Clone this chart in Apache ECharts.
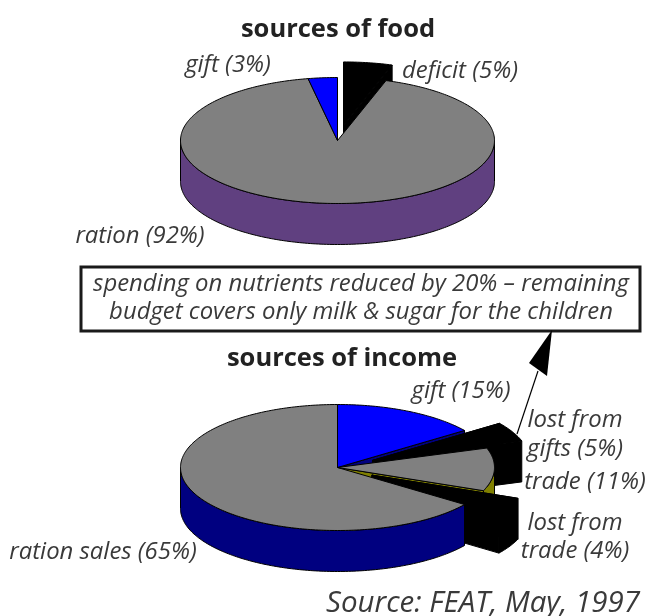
<!DOCTYPE html>
<html><head><meta charset="utf-8">
<style>html,body{margin:0;padding:0;background:#fff}#c{width:650px;height:616px}</style>
<script src="https://cdn.jsdelivr.net/npm/echarts@6/dist/echarts.min.js"></script>
</head><body><div id="c"></div>
<script>
// ---- data ----
var foodTitle = 'sources of food';
var foodLabels = ['deficit (5%)', 'ration (92%)', 'gift (3%)'];
var foodValues = [5, 92, 3];
var foodTopColors = ['#000000', '#808080', '#0000ff'];
var foodSideColors = ['#000000', '#604080', '#000080'];
var foodExploded = [1, 0, 0];

var incomeTitle = 'sources of income';
var incomeLabels = ['gift (15%)', 'lost from\ngifts (5%)', 'trade (11%)', 'lost from\ntrade (4%)', 'ration sales (65%)'];
var incomeValues = [15, 5, 11, 4, 65];
var incomeTopColors = ['#0000ff', '#000000', '#808080', '#000000', '#808080'];
var incomeSideColors = ['#000080', '#000000', '#808000', '#000000', '#000080'];
var incomeExploded = [0, 1, 0, 1, 0];

var boxLines = ['spending on nutrients reduced by 20% \u2013 remaining', 'budget covers only milk & sugar for the children'];
var sourceNote = 'Source: FEAT, May, 1997';

// ---- drawing order: [slice index, face kind] ----
var foodOrder = [[0,'wedge'],[1,'rim'],[1,'top'],[2,'top']];
var incomeOrder = [[0,'cutEnd'],[1,'wedge'],[2,'rim'],[2,'cutEnd'],[3,'wedge'],[4,'rim'],[4,'top'],[0,'top'],[2,'top']];

// ---- layout ----
var RX = 157, RY = 63, DEPTH = 41, EXPLODE = 0.25;
var pies = [
  {cx: 337.5, cy: 140.5, values: foodValues, tops: foodTopColors, sides: foodSideColors, exploded: foodExploded},
  {cx: 337.5, cy: 467.5, values: incomeValues, tops: incomeTopColors, sides: incomeSideColors, exploded: incomeExploded}
];
pies.forEach(function (p) {
  var total = p.values.reduce(function (a, b) { return a + b; }, 0), acc = 0;
  p.angles = p.values.map(function (v) { var s = acc; acc += v / total * 360; return [s, acc]; });
});
function pt(cx, cy, deg, dy) {
  var r = deg * Math.PI / 180;
  return [cx + RX * Math.sin(r), cy - RY * Math.cos(r) + (dy || 0)];
}
function arc(cx, cy, a0, a1, dy) {
  var out = [], n = Math.max(2, Math.ceil(Math.abs(a1 - a0)));
  for (var i = 0; i <= n; i++) out.push(pt(cx, cy, a0 + (a1 - a0) * i / n, dy));
  return out;
}
function poly(points, fill) {
  return {type: 'polygon', shape: {points: points},
    style: {fill: fill, stroke: '#000', lineWidth: 1, lineJoin: 'round'}, silent: true};
}
function rimPoly(cx, cy, a0, a1, fill) {
  var s = Math.max(a0, 90), e = Math.min(a1, 270);
  if (e <= s) return null;
  return poly(arc(cx, cy, s, e, 0).concat(arc(cx, cy, e, s, DEPTH)), fill);
}
function cutPoly(cx, cy, a, fill) {
  var p = pt(cx, cy, a);
  return poly([[cx, cy], p, [p[0], p[1] + DEPTH], [cx, cy + DEPTH]], fill);
}
function topPoly(cx, cy, a0, a1, fill) {
  return poly([[cx, cy]].concat(arc(cx, cy, a0, a1, 0)), fill);
}
function makeSeries(pieIndex, order) {
  var p = pies[pieIndex];
  return {
    type: 'custom', coordinateSystem: 'none', silent: true, animation: false,
    data: order.map(function (o, i) { return [i]; }),
    renderItem: function (params) {
      var o = order[params.dataIndex], i = o[0], kind = o[1], a = p.angles[i];
      var cx = p.cx, cy = p.cy, els = [];
      if (kind === 'wedge') {
        var mid = (a[0] + a[1]) / 2, m = pt(0, 0, mid);
        cx += m[0] * EXPLODE; cy += m[1] * EXPLODE;
        els.push(cutPoly(cx, cy, a[0], p.sides[i]));
        els.push(cutPoly(cx, cy, a[1], p.sides[i]));
        var r = rimPoly(cx, cy, a[0], a[1], p.sides[i]);
        if (r) els.push(r);
        els.push(topPoly(cx, cy, a[0], a[1], p.tops[i]));
      } else if (kind === 'rim') {
        var rr = rimPoly(cx, cy, a[0], a[1], p.sides[i]);
        if (rr) els.push(rr);
      } else if (kind === 'cutEnd') {
        els.push(cutPoly(cx, cy, a[1], p.sides[i]));
      } else {
        els.push(topPoly(cx, cy, a[0], a[1], p.tops[i]));
      }
      return {type: 'group', children: els};
    }
  };
}

// ---- text ----
var ITALIC = {fontFamily: 'Open Sans', fontStyle: 'italic', fontSize: 23.9, fill: '#3a3a3a'};
var BOLD = {fontFamily: 'Open Sans', fontWeight: 'bold', fontSize: 25.5, fill: '#222'};
function txt(s, x, y, base, extra) {
  return {type: 'text', x: x, y: y, silent: true, z: 10,
    style: Object.assign({text: s, textAlign: 'center', textVerticalAlign: 'middle', lineHeight: 32}, base, extra || {})};
}
var texts = [
  txt(foodTitle, 338, 30, BOLD),
  txt(foodLabels[2], 228, 65.5, ITALIC),
  txt(foodLabels[0], 460, 71, ITALIC),
  txt(foodLabels[1], 140, 236.5, ITALIC),
  txt(boxLines[0], 361, 284.5, ITALIC),
  txt(boxLines[1], 361, 312.5, ITALIC),
  txt(incomeTitle, 342, 359, BOLD),
  txt(incomeLabels[0], 461, 391.5, ITALIC),
  txt(incomeLabels[1], 575, 435, ITALIC, {lineHeight: 29}),
  txt(incomeLabels[2], 585, 482.5, ITALIC),
  txt(incomeLabels[3], 575, 537, ITALIC, {lineHeight: 28}),
  txt(incomeLabels[4], 103, 552.5, ITALIC),
  txt(sourceNote, 483, 604, ITALIC, {fontSize: 29.5})
];
var box = {type: 'rect', z: 5, silent: true, shape: {x: 81, y: 267, width: 559, height: 64},
  style: {fill: '#fff', stroke: '#1a1a1a', lineWidth: 3}};
var arrowLine = {type: 'line', z: 5, silent: true, shape: {x1: 517, y1: 434, x2: 538, y2: 371},
  style: {stroke: '#000', lineWidth: 1.2}};
var arrowHead = {type: 'polygon', z: 5, silent: true, shape: {points: [[552, 330], [529, 363], [547, 376]]},
  style: {fill: '#000'}};

var chart = echarts.init(document.getElementById('c'), null, {renderer: 'canvas', width: 650, height: 616});
chart.setOption({
  animation: false,
  backgroundColor: '#fff',
  series: [makeSeries(0, foodOrder), makeSeries(1, incomeOrder)],
  graphic: {elements: [box, arrowLine, arrowHead].concat(texts)}
});
</script></body></html>
